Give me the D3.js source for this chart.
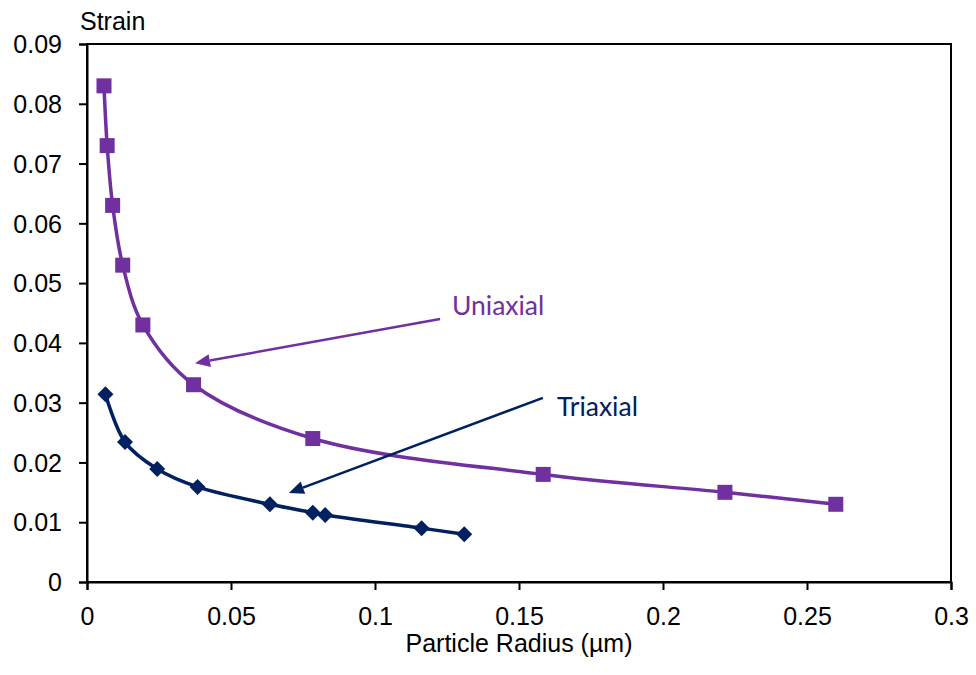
<!DOCTYPE html>
<html>
<head>
<meta charset="utf-8">
<script src="https://cdn.jsdelivr.net/npm/d3@7"></script>
<style>
  body { margin: 0; background: #fff; }
  svg { display: block; }
</style>
</head>
<body>
<svg id="chart" width="976" height="675"></svg>
<script>
// Strain vs particle radius for two loading conditions
const uniaxialRadius = [0.0059, 0.0070, 0.0089, 0.0124, 0.0194, 0.0370, 0.0784, 0.1584, 0.2215, 0.2600];
const uniaxialStrain = [0.083, 0.073, 0.063, 0.053, 0.043, 0.033, 0.024, 0.018, 0.015, 0.013];

const triaxialRadius = [0.0064, 0.0132, 0.0244, 0.0384, 0.0635, 0.0784, 0.0827, 0.1162, 0.1310];
const triaxialStrain = [0.0314, 0.0234, 0.0189, 0.0159, 0.0130, 0.0116, 0.0112, 0.0090, 0.0080];

const xTicks = [0, 0.05, 0.1, 0.15, 0.2, 0.25, 0.3];
const yTicks = [0, 0.01, 0.02, 0.03, 0.04, 0.05, 0.06, 0.07, 0.08, 0.09];

// Annotation arrows: label text, label anchor, arrow start and tip (data units)
const callouts = [
  { text: "Uniaxial", color: "#7030A0", label: [0.1267, 0.0447], from: [0.1226, 0.0440], to: [0.0375, 0.0366] },
  { text: "Triaxial", color: "#002060", label: [0.1632, 0.0278], from: [0.1583, 0.0308], to: [0.0701, 0.0149] }
];

const margin = { left: 87, right: 25, top: 44, bottom: 93 };
const width = 976, height = 675;

const svg = d3.select("#chart");

const x = d3.scaleLinear().domain([0, 0.3]).range([margin.left, width - margin.right]);
const y = d3.scaleLinear().domain([0, 0.09]).range([height - margin.bottom, margin.top]);

const axisFont = "'Liberation Sans', Arial, sans-serif";
const axisSize = "25px";

// Plot frame
svg.append("rect")
  .attr("x", x(0)).attr("y", y(0.09))
  .attr("width", x(0.3) - x(0)).attr("height", y(0) - y(0.09))
  .attr("fill", "none").attr("stroke", "#000").attr("stroke-width", 2);

const fmt = d => d === 0 ? "0" : String(+d.toFixed(2));

const xAxis = svg.append("g")
  .attr("transform", `translate(0,${y(0)})`)
  .call(d3.axisBottom(x).tickValues(xTicks).tickFormat(fmt).tickSize(8).tickPadding(17));
const yAxis = svg.append("g")
  .attr("transform", `translate(${x(0)},0)`)
  .call(d3.axisLeft(y).tickValues(yTicks).tickFormat(fmt).tickSize(8).tickPadding(17));

[xAxis, yAxis].forEach(g => {
  g.select(".domain").attr("stroke", "#000").attr("stroke-width", 2);
  g.selectAll(".tick line").attr("stroke", "#000").attr("stroke-width", 2);
  g.selectAll(".tick text")
    .attr("fill", "#000")
    .style("font-family", axisFont)
    .style("font-size", axisSize);
});
yAxis.selectAll(".tick text").attr("dy", "0.35em");

// Axis titles
svg.append("text")
  .attr("x", 80).attr("y", 30)
  .style("font-family", axisFont).style("font-size", axisSize)
  .attr("fill", "#000")
  .text("Strain");

svg.append("text")
  .attr("x", (x(0) + x(0.3)) / 2).attr("y", 652)
  .attr("text-anchor", "middle")
  .style("font-family", axisFont).style("font-size", axisSize)
  .attr("fill", "#000")
  .text("Particle Radius (µm)");

// Smoothed series lines
const line = d3.line()
  .x(d => x(d[0])).y(d => y(d[1]))
  .curve(d3.curveCatmullRom.alpha(0.5));

const uniaxial = d3.zip(uniaxialRadius, uniaxialStrain);
const triaxial = d3.zip(triaxialRadius, triaxialStrain);

svg.append("path").datum(uniaxial)
  .attr("d", line).attr("fill", "none")
  .attr("stroke", "#7030A0").attr("stroke-width", 3.5);

svg.append("path").datum(triaxial)
  .attr("d", line).attr("fill", "none")
  .attr("stroke", "#002060").attr("stroke-width", 3.5);

// Markers
const sq = 15;
svg.append("g").selectAll("rect").data(uniaxial).join("rect")
  .attr("x", d => x(d[0]) - sq / 2).attr("y", d => y(d[1]) - sq / 2)
  .attr("width", sq).attr("height", sq)
  .attr("fill", "#7030A0");

const dm = 8;
svg.append("g").selectAll("path").data(triaxial).join("path")
  .attr("d", d => {
    const cx = x(d[0]), cy = y(d[1]);
    return `M${cx},${cy - dm}L${cx + dm},${cy}L${cx},${cy + dm}L${cx - dm},${cy}Z`;
  })
  .attr("fill", "#002060");

// Callout arrows with labels
callouts.forEach(c => {
  const x1 = x(c.from[0]), y1 = y(c.from[1]);
  const x2 = x(c.to[0]), y2 = y(c.to[1]);
  const ang = Math.atan2(y2 - y1, x2 - x1);
  const headLen = 15, headHalf = 6.5;
  const bx = x2 - headLen * Math.cos(ang), by = y2 - headLen * Math.sin(ang);
  svg.append("line")
    .attr("x1", x1).attr("y1", y1).attr("x2", bx).attr("y2", by)
    .attr("stroke", c.color).attr("stroke-width", 2.5);
  const px = -Math.sin(ang), py = Math.cos(ang);
  svg.append("path")
    .attr("d", `M${x2},${y2}L${bx + px * headHalf},${by + py * headHalf}L${bx - px * headHalf},${by - py * headHalf}Z`)
    .attr("fill", c.color);
  svg.append("text")
    .attr("x", x(c.label[0])).attr("y", y(c.label[1]))
    .style("font-family", "Lato, 'Open Sans', sans-serif")
    .style("font-size", "26.5px")
    .attr("fill", c.color)
    .text(c.text);
});
</script>
</body>
</html>
